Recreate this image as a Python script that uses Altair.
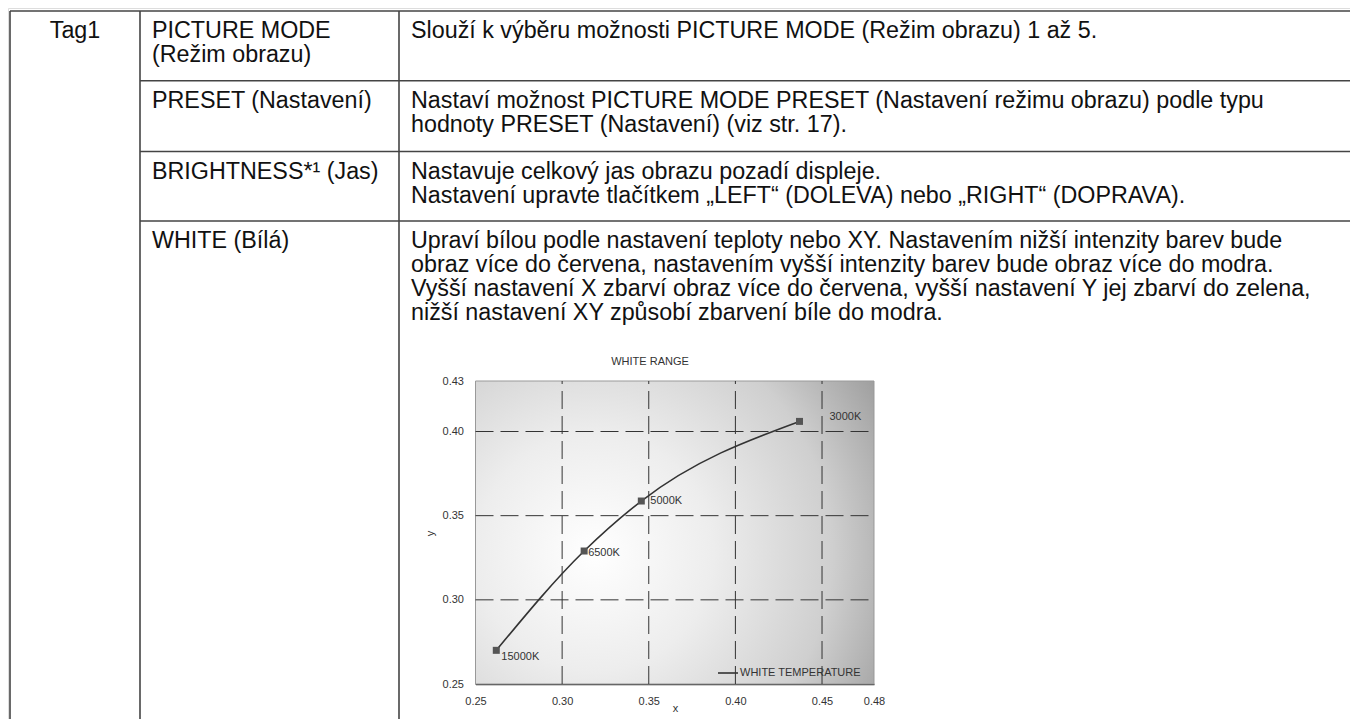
import altair as alt
import pandas as pd

# ---------------- table content ----------------
tag_labels = ["Tag1"]
item_names = [
    ["PICTURE MODE", "(Režim obrazu)"],
    ["PRESET (Nastavení)"],
    ["BRIGHTNESS*¹ (Jas)"],
    ["WHITE (Bílá)"],
]
descriptions = [
    ["Slouží k výběru možnosti PICTURE MODE (Režim obrazu) 1 až 5."],
    ["Nastaví možnost PICTURE MODE PRESET (Nastavení režimu obrazu) podle typu",
     "hodnoty PRESET (Nastavení) (viz str. 17)."],
    ["Nastavuje celkový jas obrazu pozadí displeje.",
     "Nastavení upravte tlačítkem „LEFT“ (DOLEVA) nebo „RIGHT“ (DOPRAVA)."],
    ["Upraví bílou podle nastavení teploty nebo XY. Nastavením nižší intenzity barev bude",
     "obraz více do červena, nastavením vyšší intenzity barev bude obraz více do modra.",
     "Vyšší nastavení X zbarví obraz více do červena, vyšší nastavení Y jej zbarví do zelena,",
     "nižší nastavení XY způsobí zbarvení bíle do modra."],
]
chart_title = ["WHITE RANGE"]

# ---------------- chart data ----------------
temps = ["15000K", "6500K", "5000K", "3000K"]
x_vals = [0.262, 0.3127, 0.3457, 0.437]
y_vals = [0.270, 0.329, 0.3587, 0.406]
series_name = ["WHITE TEMPERATURE"]
x_ticks = [0.25, 0.30, 0.35, 0.40, 0.45, 0.48]
y_ticks = [0.25, 0.30, 0.35, 0.40, 0.43]

# ---------------- layout (pixels, chart coordinates) ----------------
W, H = 1342, 711
col_edges = [2, 132, 391]
row_tops = [3, 72.7, 143.5, 213]
first_base = 27
line_step = 24
col_text_x = [67, 144, 403]
FONT = "Liberation Sans"
TXT = 23.3
SMALL = 11
label_offsets = [(5, 7), (4, 2), (9, 0), (30, -4)]
plot_x_range = [467.5, 866]
plot_y_range = [676, 373]

# ---------------- page layer (table) ----------------
px = alt.Scale(domain=[0, W], range=[0, W], nice=False, zero=False)
py = alt.Scale(domain=[0, H], range=[0, H], nice=False, zero=False)

rules = []
for cx in col_edges:
    rules.append(dict(x=cx, x2=cx, y=row_tops[0], y2=H))
rules.append(dict(x=col_edges[0], x2=W, y=row_tops[0], y2=row_tops[0]))
for rt in row_tops[1:]:
    rules.append(dict(x=col_edges[1], x2=W, y=rt, y2=rt))
rules_df = pd.DataFrame(rules)

left_rows = []
for r, (names, descs) in enumerate(zip(item_names, descriptions)):
    for i, t in enumerate(names):
        left_rows.append(dict(text=t, x=col_text_x[1], y=row_tops[r] + first_base + i * line_step))
    for i, t in enumerate(descs):
        left_rows.append(dict(text=t, x=col_text_x[2], y=row_tops[r] + first_base + i * line_step))
left_df = pd.DataFrame(left_rows)
center_df = pd.DataFrame([dict(text=tag_labels[0], x=col_text_x[0], y=row_tops[0] + first_base)])
title_df = pd.DataFrame([dict(text=chart_title[0], x=642, y=354)])

table_rules = alt.Chart(rules_df).mark_rule(color="#444", strokeWidth=1.6).encode(
    x=alt.X("x:Q", scale=px, axis=None), x2="x2:Q",
    y=alt.Y("y:Q", scale=py, axis=None), y2="y2:Q")
text_left = alt.Chart(left_df).mark_text(align="left", baseline="alphabetic", font=FONT,
                                         fontSize=TXT, color="#111").encode(
    x=alt.X("x:Q", scale=px, axis=None), y=alt.Y("y:Q", scale=py, axis=None), text="text:N")
text_center = alt.Chart(center_df).mark_text(align="center", baseline="alphabetic", font=FONT,
                                             fontSize=TXT, color="#111").encode(
    x=alt.X("x:Q", scale=px, axis=None), y=alt.Y("y:Q", scale=py, axis=None), text="text:N")
title_text = alt.Chart(title_df).mark_text(align="center", baseline="middle", font=FONT,
                                           fontSize=SMALL, color="#333").encode(
    x=alt.X("x:Q", scale=px, axis=None), y=alt.Y("y:Q", scale=py, axis=None), text="text:N")
page = alt.layer(table_rules, text_left, text_center, title_text)

# ---------------- inner chart ----------------
xs = alt.Scale(domain=[x_ticks[0], x_ticks[-1]], range=plot_x_range, nice=False, zero=False)
ys = alt.Scale(domain=[y_ticks[0], y_ticks[-1]], range=plot_y_range, nice=False, zero=False)

x_axis = alt.Axis(values=x_ticks, format=".2f", offset=-(H - plot_y_range[0]), domain=True,
                  domainColor="#333", domainWidth=1.5, ticks=False, grid=False,
                  labelFont=FONT, labelFontSize=SMALL, labelColor="#333", labelPadding=11,
                  labelFlush=False, labelOverlap=False,
                  title="x", titleFont=FONT, titleFontSize=SMALL, titleFontWeight="normal",
                  titleColor="#333", titleX=667, titleY=24, titleBaseline="middle")
y_axis = alt.Axis(values=y_ticks, format=".2f", offset=-plot_x_range[0], domain=True,
                  domainColor="#333", domainWidth=1.5, ticks=False, grid=False,
                  labelFont=FONT, labelFontSize=SMALL, labelColor="#333", labelPadding=12,
                  labelFlush=False, labelOverlap=False,
                  title="y", titleFont=FONT, titleFontSize=SMALL, titleFontWeight="normal",
                  titleColor="#333", titleX=-45.5, titleY=525, titleBaseline="middle",
                  titleAlign="center")


def X(f):
    return alt.X(f, scale=xs, axis=x_axis)


def Y(f):
    return alt.Y(f, scale=ys, axis=y_axis)


bg_df = pd.DataFrame([dict(x0=x_ticks[0], x1=x_ticks[-1], y0=y_ticks[0], y1=y_ticks[-1])])
gradient = alt.RadialGradient(
    gradient="radial",
    stops=[alt.GradientStop(color="#ffffff", offset=0),
           alt.GradientStop(color="#ededed", offset=0.35),
           alt.GradientStop(color="#cfcfcf", offset=0.7),
           alt.GradientStop(color="#999999", offset=1)],
    x1=0.3, y1=0.55, r1=0, x2=0.3, y2=0.55, r2=0.85)
bg = alt.Chart(bg_df).mark_rect(fill=gradient, stroke="#999", strokeWidth=1).encode(
    x=X("x0:Q"), x2="x1:Q", y=Y("y0:Q"), y2="y1:Q")

gv_df = pd.DataFrame(dict(x=x_ticks[1:-1], y0=y_ticks[0], y1=y_ticks[-1]))
gh_df = pd.DataFrame(dict(y=y_ticks[1:-1], x0=x_ticks[0], x1=x_ticks[-1]))
grid_v = alt.Chart(gv_df).mark_rule(color="#333", strokeWidth=1, strokeDash=[18, 7]).encode(
    x=X("x:Q"), y=Y("y0:Q"), y2="y1:Q")
grid_h = alt.Chart(gh_df).mark_rule(color="#333", strokeWidth=1, strokeDash=[18, 7]).encode(
    y=Y("y:Q"), x=X("x0:Q"), x2="x1:Q")

pts_df = pd.DataFrame(dict(temp=temps, x=x_vals, y=y_vals, series=series_name * len(temps)))
line = alt.Chart(pts_df).mark_line(interpolate="monotone", strokeWidth=1.6).encode(
    x=X("x:Q"), y=Y("y:Q"),
    color=alt.Color("series:N", scale=alt.Scale(range=["#333333"]),
                    legend=alt.Legend(orient="none", legendX=709, legendY=654, title=None,
                                      symbolType="stroke", symbolSize=400, symbolStrokeWidth=1.6,
                                      labelFont=FONT, labelFontSize=SMALL, labelColor="#333",
                                      labelOffset=1, padding=0)))
pts = alt.Chart(pts_df).mark_square(size=49, color="#555", opacity=1).encode(x=X("x:Q"), y=Y("y:Q"))

labels = []
for t, (dx, dy) in zip(temps, label_offsets):
    labels.append(
        alt.Chart(pts_df).transform_filter(alt.datum.temp == t)
        .mark_text(align="left", baseline="middle", dx=dx, dy=dy, font=FONT,
                   fontSize=SMALL, color="#333")
        .encode(x=X("x:Q"), y=Y("y:Q"), text="temp:N"))

inner = alt.layer(bg, grid_v, grid_h, line, pts, *labels)

chart = (
    alt.layer(page, inner)
    .resolve_scale(x="independent", y="independent")
    .properties(width=W, height=H, padding=0, autosize=alt.AutoSizeParams(type="none"),
                background="white")
    .configure_view(strokeWidth=0)
    .configure(font=FONT)
)

chart.save("out.html", embed_options={"renderer": "svg", "actions": False})
